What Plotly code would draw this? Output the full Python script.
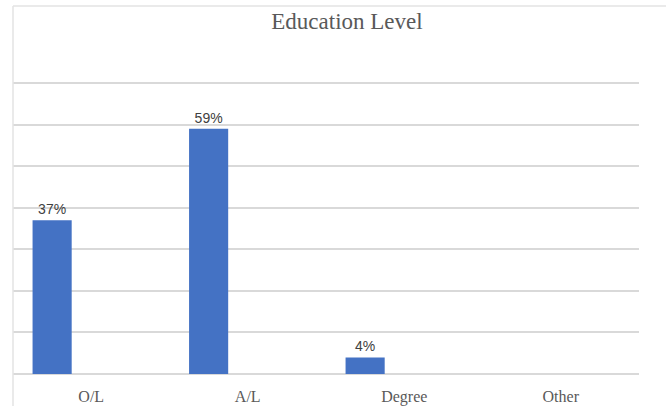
import plotly.graph_objects as go

categories = ["O/L", "A/L", "Degree", "Other"]
values = [37, 59, 4, 0]
labels = ["37%", "59%", "4%", ""]

W, H = 666, 406
ml, mr, mt, mb = 13, 27, 81, 32
pw, ph = W - ml - mr, H - mt - mb
ymax = 70.5

fig = go.Figure()
fig.add_trace(go.Bar(
    x=categories, y=values, text=labels,
    textposition="outside", cliponaxis=False,
    textfont=dict(family="Liberation Sans", size=14, color="#404040"),
    marker=dict(color="#4472C4", line=dict(width=0)),
    width=0.25, offset=-0.375,
    hoverinfo="skip",
))

# chart border lines (top and left)
top_y = (H - mb - 6) / ph
fig.add_shape(type="line", xref="paper", yref="paper", x0=0, x1=(W - ml) / pw + 0.01,
              y0=top_y, y1=top_y, line=dict(color="#e3e3e3", width=1.5))
fig.add_shape(type="line", xref="paper", yref="paper", x0=0, x1=0,
              y0=top_y, y1=-(mb + 2) / ph, line=dict(color="#e3e3e3", width=1.5))

fig.update_layout(
    width=W, height=H,
    margin=dict(l=ml, r=mr, t=mt, b=mb, autoexpand=False),
    paper_bgcolor="white", plot_bgcolor="white",
    showlegend=False,
    title=dict(text="Education Level", x=(347 - ml) / pw, xref="paper", xanchor="center",
               y=1 - 21 / H, yanchor="middle",
               font=dict(family="Liberation Serif", size=23, color="#595959")),
    xaxis=dict(showgrid=False, showline=False, ticks="", zeroline=False, automargin=False,
               tickfont=dict(family="Liberation Serif", size=16, color="#595959"),
               ticklabelstandoff=11),
    yaxis=dict(range=[0, ymax], dtick=10, showticklabels=False, showgrid=True, automargin=False,
               gridcolor="#d9d9d9", gridwidth=1.5, zeroline=True,
               zerolinecolor="#d9d9d9", zerolinewidth=1.5, showline=False),
)

fig.write_html("out.html")
